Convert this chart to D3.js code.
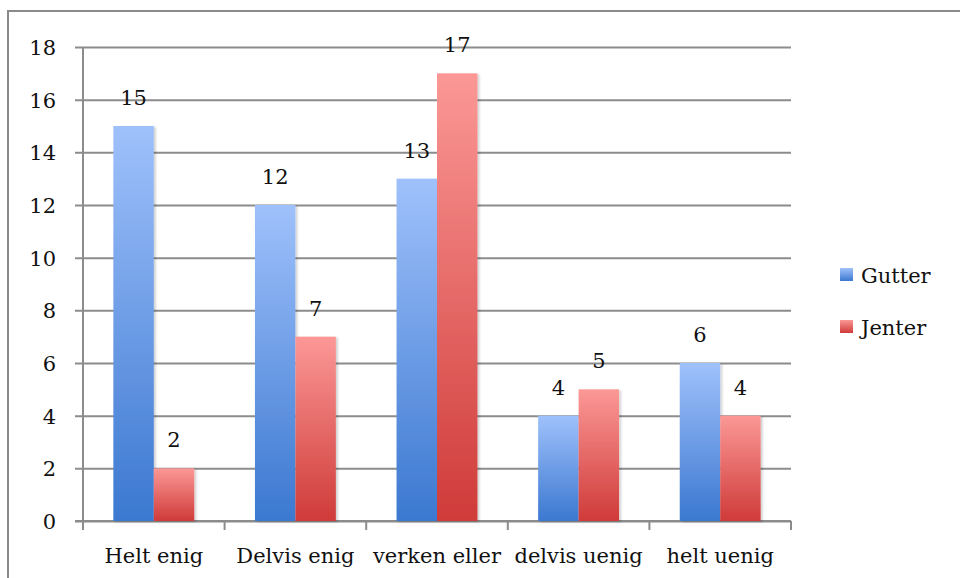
<!DOCTYPE html>
<html>
<head>
<meta charset="utf-8">
<script src="https://cdn.jsdelivr.net/npm/d3@7"></script>
<style>
  html, body { margin: 0; padding: 0; background: #fff; }
  svg { display: block; }
  text { font-family: "DejaVu Serif", serif; fill: #111; }
</style>
</head>
<body>
<svg id="chart" width="960" height="578"></svg>
<script>
// Survey answers per category, split by group
const categories = ["Helt enig", "Delvis enig", "verken eller", "delvis uenig", "helt uenig"];
const gutter = [15, 12, 13, 4, 6];
const jenter = [2, 7, 17, 5, 4];
const seriesNames = ["Gutter", "Jenter"];
const yTicks = [0, 2, 4, 6, 8, 10, 12, 14, 16, 18];

const svg = d3.select("#chart");
const plot = { left: 83, right: 791, top: 47, bottom: 521 };

const defs = svg.append("defs");
const grads = [
  { id: "gBlue", top: "#9fc1fb", bottom: "#3b78d0" },
  { id: "gRed", top: "#fb9896", bottom: "#cf3b39" }
];
grads.forEach(g => {
  const lg = defs.append("linearGradient").attr("id", g.id)
    .attr("x1", 0).attr("y1", 0).attr("x2", 0).attr("y2", 1);
  lg.append("stop").attr("offset", "0%").attr("stop-color", g.top);
  lg.append("stop").attr("offset", "100%").attr("stop-color", g.bottom);
});
const shadow = defs.append("filter").attr("id", "barShadow")
  .attr("x", "-20%").attr("y", "-10%").attr("width", "150%").attr("height", "120%");
shadow.append("feDropShadow").attr("dx", 2).attr("dy", 1)
  .attr("stdDeviation", 1.2).attr("flood-color", "#000").attr("flood-opacity", 0.18);

// Outer frame (runs past the right and bottom edges)
svg.append("rect").attr("x", 8).attr("y", 11).attr("width", 990).attr("height", 620)
  .attr("fill", "none").attr("stroke", "#8a8a8a").attr("stroke-width", 2);

const x0 = d3.scaleBand().domain(categories).range([plot.left, plot.right]);
const x1 = d3.scaleBand().domain(seriesNames).range([0, x0.bandwidth()])
  .paddingOuter(0.75).paddingInner(0);
const y = d3.scaleLinear().domain([0, 18]).range([plot.bottom, plot.top]);

const gridColor = "#8c8c8c";

// Horizontal gridlines with left ticks
const yAxis = d3.axisLeft(y).tickValues(yTicks).tickSize(-(plot.right - plot.left))
  .tickSizeOuter(0);
const yg = svg.append("g").attr("transform", `translate(${plot.left},0)`).call(yAxis);
yg.select(".domain").remove();
yg.selectAll(".tick line").attr("stroke", gridColor).attr("stroke-width", 2)
  .attr("x1", -8);
yg.selectAll(".tick text").attr("font-size", 21).attr("font-family", "DejaVu Serif")
  .attr("fill", "#111").attr("x", -27).attr("dy", "0.36em");

// Vertical axis line
svg.append("line").attr("x1", plot.left).attr("x2", plot.left)
  .attr("y1", plot.top).attr("y2", plot.bottom)
  .attr("stroke", gridColor).attr("stroke-width", 2);

// Category axis with boundary ticks
svg.append("line").attr("x1", plot.left - 8).attr("x2", plot.right)
  .attr("y1", plot.bottom).attr("y2", plot.bottom)
  .attr("stroke", gridColor).attr("stroke-width", 2);
const boundaries = categories.map(c => x0(c)).concat([plot.right]);
svg.append("g").selectAll("line").data(boundaries).join("line")
  .attr("x1", d => d).attr("x2", d => d)
  .attr("y1", plot.bottom).attr("y2", plot.bottom + 9)
  .attr("stroke", gridColor).attr("stroke-width", 2);
svg.append("g").selectAll("text").data(categories).join("text")
  .attr("x", d => x0(d) + x0.bandwidth() / 2)
  .attr("y", 563)
  .attr("text-anchor", "middle")
  .attr("font-size", 21)
  .text(d => d);

// Bars
const rows = categories.map((c, i) => ({ cat: c, vals: [
  { s: "Gutter", v: gutter[i], fill: "url(#gBlue)" },
  { s: "Jenter", v: jenter[i], fill: "url(#gRed)" }
]}));

const groups = svg.append("g").selectAll("g").data(rows).join("g")
  .attr("transform", d => `translate(${x0(d.cat)},0)`);
groups.selectAll("rect").data(d => d.vals).join("rect")
  .attr("x", d => x1(d.s))
  .attr("y", d => y(d.v))
  .attr("width", x1.bandwidth())
  .attr("height", d => y(0) - y(d.v))
  .attr("fill", d => d.fill)
  .attr("filter", "url(#barShadow)");
groups.selectAll("text").data(d => d.vals).join("text")
  .attr("x", d => x1(d.s) + x1.bandwidth() / 2)
  .attr("y", d => y(d.v) - 21)
  .attr("text-anchor", "middle")
  .attr("font-size", 21)
  .text(d => d.v);

// Legend
const legend = svg.append("g").selectAll("g")
  .data([{ name: "Gutter", fill: "url(#gBlue)" }, { name: "Jenter", fill: "url(#gRed)" }])
  .join("g")
  .attr("transform", (d, i) => `translate(840,${268 + i * 52})`);
legend.append("rect").attr("width", 13).attr("height", 13).attr("fill", d => d.fill);
legend.append("text").attr("x", 21).attr("y", 7).attr("dy", "0.36em")
  .attr("font-size", 21).text(d => d.name);
</script>
</body>
</html>
